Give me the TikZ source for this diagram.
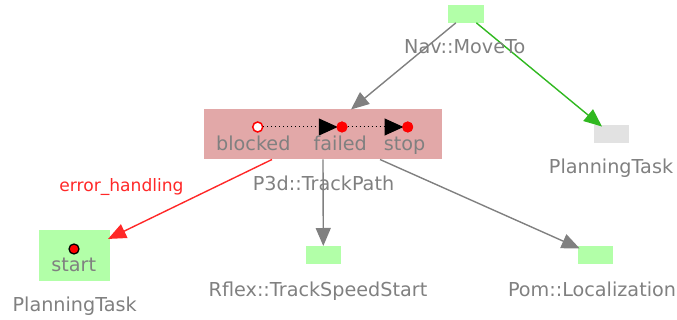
\documentclass[tikz,border=0pt]{standalone}
\usepackage{fontspec}
\setmainfont{DejaVu Sans}
\usetikzlibrary{arrows.meta,calc}
\definecolor{boxgreen}{RGB}{178,255,168}
\definecolor{boxpink}{RGB}{226,168,168}
\definecolor{boxgray}{RGB}{226,226,226}
\definecolor{txtgray}{RGB}{128,128,128}
\definecolor{edgered}{RGB}{255,40,40}
\definecolor{edgegreen}{RGB}{48,184,32}
\tikzset{
  taskbox/.style={draw=none, inner sep=0pt, outer sep=0pt, fill=#1},
  lbl/.style={text=txtgray, font=\fontsize{19.2}{21}\selectfont, anchor=base, inner sep=0pt},
  edge/.style={line width=1.4pt, -{Triangle[length=18pt,width=15pt]}},
  trans/.style={black, line width=1pt, dash pattern=on 1pt off 3pt, -{Triangle[length=19pt,width=17pt]}},
  stateA/.style={circle, inner sep=0pt, minimum size=10pt, draw=red, line width=1.5pt, fill=white},
  stateB/.style={circle, inner sep=0pt, minimum size=11pt, fill=red}
}
\begin{document}
\begin{tikzpicture}[x=1pt,y=-1pt]
\useasboundingbox (0,0) rectangle (677,320);
% boxes
\node[taskbox=boxgreen, minimum width=35.7pt, minimum height=17.7pt] (nav) at (466,14) {};
\node[taskbox=boxgray, minimum width=35pt, minimum height=18.3pt] (gray) at (611,134.2) {};
\node[taskbox=boxpink, minimum width=238pt, minimum height=50pt] (p3d) at (323,134.5) {};
\node[taskbox=boxgreen, minimum width=70.7pt, minimum height=50.7pt] (startbox) at (74.7,255.3) {};
\node[taskbox=boxgreen, minimum width=35.3pt, minimum height=18pt] (rflex) at (323.3,255) {};
\node[taskbox=boxgreen, minimum width=35.6pt, minimum height=18pt] (pom) at (595.5,255) {};
% edges
\draw[edge, txtgray] ($(nav.south west)+(7.7,0)$) -- ($(p3d.north)+(28,0)$);
\draw[edge, edgegreen] ($(nav.south east)+(-7.5,0)$) -- ($(gray.north)+(-9,1.5)$);
\draw[edge, edgered] ($(p3d.south)+(-51,0)$) -- ($(startbox.north east)+(-2,9)$);
\draw[edge, txtgray] (p3d.south) -- (rflex.north);
\draw[edge, txtgray] ($(p3d.south)+(57,0)$) -- ($(pom.north west)+(2,2.5)$);
% labels
\node[lbl] (navl) at (464.7,54) {Nav::MoveTo};
\node[lbl] (grayl) at (611,174) {PlanningTask};
\node[lbl] (p3dl) at (323.5,191) {P3d::TrackPath};
\node[lbl] (startl) at (74.7,312) {PlanningTask};
\node[lbl] (rflexl) at (318,296) {Rflex::TrackSpeedStart};
\node[lbl] (poml) at (592,296) {Pom::Localization};
\node[lbl, text=edgered, font=\fontsize{17.1}{19}\selectfont] (errl) at (121.5,192) {error\_handling};
% states
\node[stateA] (blocked) at (257.7,127) {};
\node[stateB] (failed) at (342,127) {};
\node[stateB] (stop) at (407.7,127) {};
\draw[trans] (blocked.east) -- ($(failed.west)+(1.5,0)$);
\draw[trans] (failed.east) -- ($(stop.west)+(1.5,0)$);
\node[stateB] (failed2) at (342,127) {};
\node[stateB] (stop2) at (407.7,127) {};
\node[lbl] (blockedl) at (253.3,151) {blocked};
\node[lbl] (failedl) at (340.3,151) {failed};
\node[lbl] (stopl) at (404.5,151) {stop};
% start state
\node[circle, inner sep=0pt, minimum size=10pt, fill=red, draw=black, line width=1.3pt] (startdot) at (74,249) {};
\node[lbl] (startsl) at (73.7,272) {start};
\end{tikzpicture}
\end{document}
